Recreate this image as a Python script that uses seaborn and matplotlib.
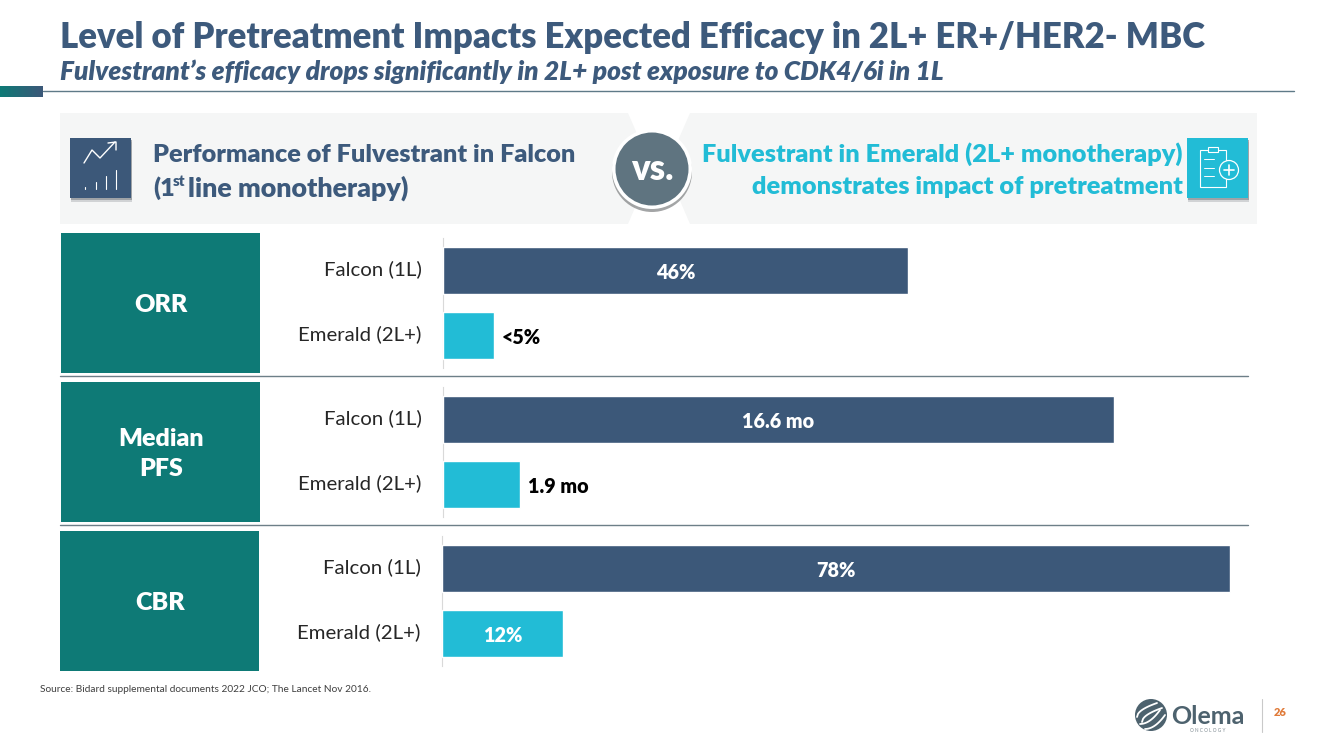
import numpy as np
import pandas as pd
import seaborn as sns
import matplotlib

matplotlib.use("agg")

import matplotlib.pyplot as plt
from matplotlib.patches import Circle, Polygon, Rectangle
from matplotlib.transforms import ScaledTranslation

# Chart data
arms = ["Falcon (1L)", "Emerald (2L+)"]
metrics = ["ORR", "Median\nPFS", "CBR"]
orr_values = [46, 5]
pfs_values = [16.6, 1.9]
cbr_values = [78, 12]
orr_labels = ["46%", "<5%"]
pfs_labels = ["16.6 mo", "1.9 mo"]
cbr_labels = ["78%", "12%"]

NAVY = "#3c5879"
CYAN = "#22bcd6"
TEAL = "#0e7a76"
SLATE = "#5f7480"
HEAVY = 800
W, H = 1333, 749

sns.set_theme(style="white")
plt.rcParams["font.family"] = ["Lato", "DejaVu Sans"]

fig = plt.figure(figsize=(W / 100, H / 100), dpi=100, facecolor="white")

# Full-slide axes in pixel coordinates for the slide furniture
bg = fig.add_axes([0, 0, 1, 1], zorder=0)
bg.set_xlim(0, W)
bg.set_ylim(H, 0)
bg.axis("off")


def box(x0, y0, x1, y1, color, **kw):
    bg.add_patch(Rectangle((x0, y0), x1 - x0, y1 - y0, fc=color, ec="none", **kw))


def shadow_box(x0, y0, x1, y1, color):
    box(x0 + 1, y0 + 4, x1 + 1, y1 + 4, "#b9bcbf", alpha=0.6)
    box(x0 + 0.5, y0 + 2, x1 + 0.5, y1 + 2, "#8a8f94", alpha=0.7)
    box(x0, y0, x1, y1, color)


def line(xs, ys, color="white", lw=1.0, **kw):
    bg.plot(xs, ys, color=color, lw=lw, solid_capstyle="round", **kw)


# Title block
bg.text(60, 37, "Level of Pretreatment Impacts Expected Efficacy in 2L+ ER+/HER2- MBC",
        fontsize=24.9, fontweight=HEAVY, color="#3d5a7c", va="center")
bg.text(60, 72, "Fulvestrant\u2019s efficacy drops significantly in 2L+ post exposure to CDK4/6i in 1L",
        fontsize=18.9, fontweight=HEAVY, style="italic", color="#3d5a7c", va="center")
bg.imshow(np.linspace(0, 1, 64).reshape(1, -1), extent=(0, 43, 97, 86), aspect="auto",
          cmap=matplotlib.colors.LinearSegmentedColormap.from_list("strip", [TEAL, NAVY]))
bg.set_xlim(0, W)
bg.set_ylim(H, 0)
line([43, 1294], [91, 91], color="#5f7a88", lw=1.0)

# Comparison banner
bg.add_patch(Polygon([(60, 113), (628, 113), (652, 168), (628, 224), (60, 224)], fc="#f5f6f6", ec="none"))
bg.add_patch(Polygon([(690, 113), (1257, 113), (1257, 224), (690, 224), (666, 168)], fc="#f5f6f6", ec="none"))
shadow_box(70, 138, 131, 198, NAVY)
shadow_box(1187, 138, 1248, 198, CYAN)

# Chart icon
line([84, 92, 100, 115], [163, 150, 158, 142])
line([108, 116, 116], [143, 142, 150])
for bx, by in zip([85, 96, 106, 116], [187, 182, 176, 170]):
    line([bx, bx], [by, 189], lw=0.8)

# Clipboard icon
bg.add_patch(Rectangle((1200, 150), 26, 37, fc="none", ec="white", lw=0.8))
box(1208, 147, 1218, 152, CYAN)
bg.add_patch(Rectangle((1208, 147), 10, 5, fc="none", ec="white", lw=0.8))
for ly in [159, 168, 176]:
    line([1204, 1214], [ly, ly], lw=0.7)
bg.add_patch(Circle((1229, 170), 9.5, fc=CYAN, ec="white", lw=0.9))
line([1229, 1229], [165, 175], lw=1.2)
line([1224, 1234], [170, 170], lw=1.2)

bg.text(153, 155, "Performance of Fulvestrant in Falcon", fontsize=18.2, fontweight=HEAVY,
        color="#3d5a7c", va="center")
bg.text(153, 188, "(1", fontsize=18.2, fontweight=HEAVY, color="#3d5a7c", va="center")
bg.text(173, 182, "st", fontsize=11, fontweight=HEAVY, color="#3d5a7c", va="center")
bg.text(188, 188, "line monotherapy)", fontsize=19.4, fontweight=HEAVY, color="#3d5a7c", va="center")
bg.text(1183, 154, "Fulvestrant in Emerald (2L+ monotherapy)", fontsize=18.3, fontweight=HEAVY,
        color=CYAN, va="center", ha="right")
bg.text(1183, 187, "demonstrates impact of pretreatment", fontsize=18.3, fontweight=HEAVY,
        color=CYAN, va="center", ha="right")

bg.add_patch(Circle((652, 172), 40, fc="#7d7f80", ec="none", alpha=0.7))
bg.add_patch(Circle((652, 169), 40, fc="white", ec="none"))
bg.add_patch(Circle((652, 169), 36.5, fc=SLATE, ec="none"))
bg.text(652, 170, "vs.", fontsize=25, fontweight=HEAVY, color="white", ha="center", va="center")

# Metric boxes and separators
box_tops = [233, 382, 531]
box_lefts = [61, 61, 60]
for top, left, metric in zip(box_tops, box_lefts, metrics):
    box(left, top, left + 199, top + 140, TEAL)
    bg.text(left + 100, top + 72, metric, fontsize=18, fontweight=HEAVY, color="white",
            ha="center", va="center", linespacing=1.5)
line([60, 1248], [376, 376], color="#6d7f88", lw=1.0)
line([60, 1248], [524.5, 524.5], color="#6d7f88", lw=1.0)

# Footer
bg.text(40, 689, "Source: Bidard supplemental documents 2022 JCO; The Lancet Nov 2016.",
        fontsize=7.3, color="#3f3f3f", va="center")
bg.add_patch(Circle((1151, 715), 16, fc="#4d626e", ec="none"))
t = np.linspace(0, 1, 20)
for off in [0, 5]:
    # upper-left and lower-right sweeps of the logo mark
    line(1137 + off + 20 * t, 717 + off - 14 * np.sqrt(t), lw=1.3)
    line(1145 - off + 20 * t, 729 - off - 14 * t ** 2, lw=1.3)
bg.text(1171, 716, "Olema", fontsize=18, fontweight="bold", color="#4d626e", va="center")
bg.text(1208, 730, "O N C O L O G Y", fontsize=3.4, color="#7f8b92", va="center", ha="center")
line([1262, 1262], [699, 732], color="#c9c9c9", lw=0.8)
bg.text(1280, 713, "26", fontsize=8, fontweight=HEAVY, color="#e07b3a", ha="center", va="center")


def bar_panel(values, labels, xmax, left, top, inside):
    """One pair of horizontal bars, placed by its pixel box on the slide."""
    width, height = 808, 130
    ax = fig.add_axes([left / W, 1 - (top + height) / H, width / W, height / H], zorder=1)
    ax.patch.set_alpha(0)
    df = pd.DataFrame({"arm": arms, "value": values})
    sns.barplot(data=df, y="arm", x="value", hue="arm", palette=[NAVY, CYAN], saturation=1,
                order=arms, hue_order=arms, width=0.708, dodge=False, legend=False, ax=ax)
    ax.set_xlim(0, xmax)
    ax.set_xlabel("")
    ax.set_ylabel("")
    ax.set_xticks([])
    ax.tick_params(axis="y", length=0, pad=15.5, labelsize=14.7, labelcolor="#262626")
    # Arm names sit slightly above the bar centres on the slide
    lift = ScaledTranslation(0, 2.5 / 100, fig.dpi_scale_trans)
    for tick_label in ax.get_yticklabels():
        tick_label.set_transform(tick_label.get_transform() + lift)
    sns.despine(ax=ax, bottom=True, top=True, right=True)
    ax.spines["left"].set_color("#d9d9d9")
    ax.spines["left"].set_linewidth(0.8)
    ax.spines["left"].set_zorder(0.5)
    for container, label, is_in in zip(ax.containers, labels, inside):
        anns = ax.bar_label(container, labels=[label], label_type="center" if is_in else "edge",
                            padding=0 if is_in else 6, color="white" if is_in else "black",
                            fontsize=14.2, fontweight=HEAVY)
        for ann in anns:
            ann.xyann = (ann.xyann[0], ann.xyann[1] - 1.5)
    return ax


bar_panel(orr_values, orr_labels, 80, 443, 238, [True, False])
bar_panel(pfs_values, pfs_labels, 20, 443, 387, [True, False])
bar_panel(cbr_values, cbr_labels, 80, 442, 536, [True, True])

fig.savefig("out.png", dpi=100)
